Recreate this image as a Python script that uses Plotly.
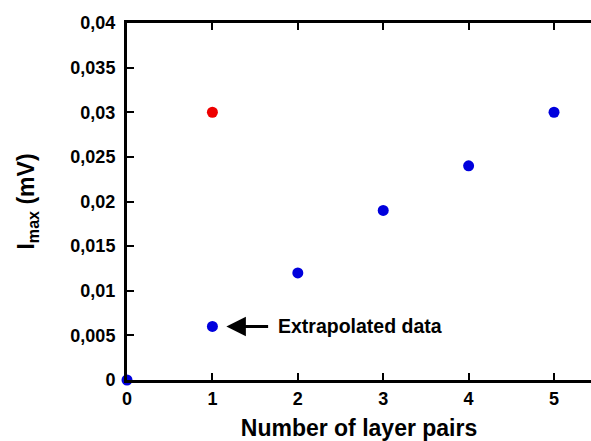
import plotly.graph_objects as go

blue_x = [0, 1, 2, 3, 4, 5]
blue_y = [0, 0.006, 0.012, 0.019, 0.024, 0.030]
red_x = [1]
red_y = [0.030]
y_ticks = [0, 0.005, 0.01, 0.015, 0.02, 0.025, 0.03, 0.035, 0.04]
y_labels = ["0", "0,005", "0,01", "0,015", "0,02", "0,025", "0,03", "0,035", "0,04"]
x_ticks = [0, 1, 2, 3, 4, 5]

FONT = "Liberation Sans, Arial, sans-serif"

fig = go.Figure()
fig.add_trace(go.Scatter(x=blue_x, y=blue_y, mode="markers",
                         marker=dict(color="#0000dd", size=11), cliponaxis=False))
fig.add_trace(go.Scatter(x=red_x, y=red_y, mode="markers",
                         marker=dict(color="#ee0000", size=11), cliponaxis=False))

fig.add_annotation(x=1, y=0.006, ax=1.67, ay=0.006, axref="x", ayref="y",
                   xref="x", yref="y", text="", showarrow=True,
                   arrowhead=2, arrowsize=1.3, arrowwidth=3, arrowcolor="black",
                   standoff=14)
fig.add_annotation(x=1.75, y=0.006, xref="x", yref="y", text="Extrapolated data",
                   showarrow=False, xanchor="left", yanchor="middle",
                   font=dict(family=FONT, size=19.5, color="black", weight="bold"))

fig.update_layout(
    width=591, height=441,
    margin=dict(l=127, r=0, t=23, b=61),
    paper_bgcolor="white", plot_bgcolor="white",
    showlegend=False,
    font=dict(family=FONT, color="black", weight="bold"),
    xaxis=dict(range=[0, 5.433], tickvals=x_ticks, ticks="inside", ticklen=7,
               tickwidth=2, tickcolor="black", showline=True, linewidth=3,
               linecolor="black", mirror="ticks", showgrid=False, zeroline=False,
               tickfont=dict(size=18, family=FONT, weight="bold"),
               title=dict(text="Number of layer pairs", standoff=14,
                          font=dict(size=23, family=FONT, weight="bold"))),
    yaxis=dict(range=[0, 0.04], tickvals=y_ticks, ticktext=y_labels,
               ticks="inside", ticklen=7, tickwidth=2, tickcolor="black",
               ticklabelstandoff=5,
               showline=True, linewidth=3, linecolor="black", mirror=False,
               showgrid=False, zeroline=False,
               tickfont=dict(size=18, family=FONT, weight="bold"),
               title=dict(text="I<sub>max</sub> (mV)", standoff=30,
                          font=dict(size=23, family=FONT, weight="bold"))),
)

fig.write_html("out.html")
